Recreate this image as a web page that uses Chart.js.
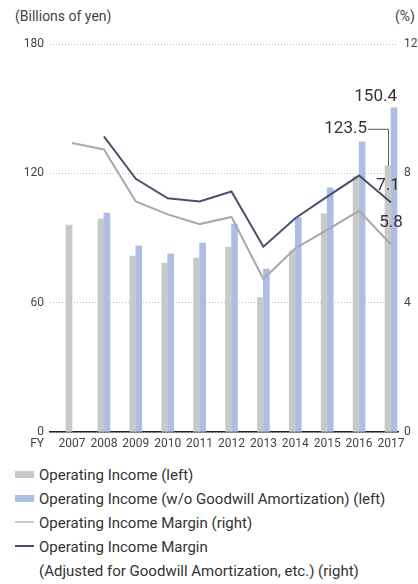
<!DOCTYPE html>
<html>
<head>
<meta charset="utf-8">
<script src="https://cdn.jsdelivr.net/npm/chart.js@4/dist/chart.umd.min.js"></script>
<style>
  body { margin: 0; background: #fff; font-family: Roboto, "Noto Sans", sans-serif; color: #333; }
  #wrap { position: relative; width: 418px; height: 584px; }
  #box { position: absolute; left: 0; top: 0; width: 418px; height: 460px; }
  .unit { position: absolute; top: 6px; font-size: 14px; color: #444; line-height: 20px; }
  #legend { position: absolute; left: 15px; top: 463px; font-size: 15px; line-height: 24px; color: #333; }
  #legend div { white-space: nowrap; }
  .sw { display: inline-block; width: 19px; vertical-align: middle; margin-right: 5px; position: relative; top: -2px; }
  .bar { height: 7px; }
  .ln { height: 2px; }
</style>
</head>
<body>
<div id="wrap">
  <div class="unit" style="left:15px">(Billions of yen)</div>
  <div class="unit" style="right:3px">(%)</div>
  <div id="box"><canvas id="myChart"></canvas></div>
  <div id="legend">
    <div><span class="sw bar" style="background:#c9c9c9"></span>Operating Income (left)</div>
    <div><span class="sw bar" style="background:#aebde2"></span>Operating Income (w/o Goodwill Amortization) (left)</div>
    <div><span class="sw ln" style="background:#cccccc"></span>Operating Income Margin (right)</div>
    <div><span class="sw ln" style="background:#4b4f6e"></span>Operating Income Margin</div>
    <div style="padding-left:24px">(Adjusted for Goodwill Amortization, etc.) (right)</div>
  </div>
</div>
<script>
const years = [2007, 2008, 2009, 2010, 2011, 2012, 2013, 2014, 2015, 2016, 2017];
const opIncome = [96.0, 98.8, 81.6, 78.4, 80.7, 85.8, 62.4, 84.0, 101.2, 118.5, 123.5];
const opIncomeExGoodwill = [null, 101.6, 86.4, 82.7, 87.7, 96.5, 75.6, 99.5, 113.3, 134.6, 150.4];
const margin = [8.94, 8.74, 7.13, 6.73, 6.43, 6.65, 4.73, 5.68, 6.25, 6.84, 5.8];
const marginAdjusted = [null, 9.14, 7.83, 7.23, 7.13, 7.44, 5.73, 6.61, 7.28, 7.93, 7.1];
const leftTicks = [0, 60, 120, 180];
const rightTicks = [0, 4, 8, 12];

const tickFont = { family: "Roboto", size: 12 };
const tickColor = "#444";

function points(values) {
  return years.map((y, i) => ({ x: y, y: values[i] }));
}

// value labels for the last year plus the leader line to the grey bar
const lastLabels = {
  id: "lastLabels",
  afterDatasetsDraw(chart) {
    const ctx = chart.ctx;
    const last = years.length - 1;
    const grey = chart.getDatasetMeta(0).data[last];
    const blue = chart.getDatasetMeta(1).data[last];
    const light = chart.getDatasetMeta(2).data[last];
    const dark = chart.getDatasetMeta(3).data[last];

    ctx.save();
    ctx.fillStyle = "#333";
    ctx.font = "17px Roboto";
    ctx.textBaseline = "middle";

    ctx.textAlign = "right";
    ctx.fillText(opIncomeExGoodwill[last].toFixed(1), blue.x + 3, blue.y - 11);

    const ly = grey.y - 37;
    ctx.fillText(opIncome[last].toFixed(1), grey.x - 21, ly);
    ctx.strokeStyle = "#555";
    ctx.lineWidth = 1;
    ctx.beginPath();
    ctx.moveTo(grey.x - 20, ly + 0.5);
    ctx.lineTo(grey.x + 0.5, ly + 0.5);
    ctx.lineTo(grey.x + 0.5, grey.y);
    ctx.stroke();

    ctx.textAlign = "center";
    ctx.fillText(marginAdjusted[last].toFixed(1), dark.x - 3, dark.y - 17);
    ctx.fillText(margin[last].toFixed(1), light.x, light.y - 22);

    // "FY" in front of the year labels
    ctx.font = "12px Roboto";
    ctx.fillStyle = tickColor;
    ctx.textAlign = "right";
    ctx.fillText("FY", 44, chart.chartArea.bottom + 12);
    ctx.restore();
  },
};

function makeChart() {
  const ctx = document.getElementById("myChart").getContext("2d");
  return new Chart(ctx, {
    type: "bar",
    data: {
      datasets: [
        {
          label: "Operating Income (left)",
          data: points(opIncome),
          backgroundColor: "#c9c9c9",
          barThickness: 6,
          yAxisID: "y",
          order: 3,
        },
        {
          label: "Operating Income (w/o Goodwill Amortization) (left)",
          data: points(opIncomeExGoodwill),
          backgroundColor: "#aebde2",
          barThickness: 6,
          yAxisID: "y",
          order: 3,
        },
        {
          type: "line",
          label: "Operating Income Margin (right)",
          data: points(margin),
          borderColor: "#a9a9a9",
          borderWidth: 2,
          pointRadius: 0,
          tension: 0,
          yAxisID: "y1",
          order: 2,
        },
        {
          type: "line",
          label: "Operating Income Margin (Adjusted for Goodwill Amortization, etc.) (right)",
          data: points(marginAdjusted),
          borderColor: "#4b4f6e",
          borderWidth: 2,
          pointRadius: 0,
          tension: 0,
          yAxisID: "y1",
          order: 1,
        },
      ],
    },
    options: {
      responsive: true,
      maintainAspectRatio: false,
      animation: false,
      layout: { padding: { top: 44, left: 0, right: 0, bottom: 0 } },
      plugins: {
        legend: { display: false },
        tooltip: { enabled: false },
      },
      scales: {
        x: {
          type: "linear",
          offset: false,
          min: 2006.31,
          max: 2017.22,
          grid: { display: false, drawTicks: false },
          border: { display: true, color: "#222", width: 1.5 },
          afterBuildTicks: (scale) => {
            scale.ticks = years.map((v) => ({ value: v }));
          },
          afterFit: (scale) => {
            scale.height = 28;
          },
          ticks: {
            font: tickFont,
            color: tickColor,
            padding: 5,
            maxRotation: 0,
            autoSkip: false,
            callback: (v) => String(v),
          },
        },
        y: {
          position: "left",
          min: 0,
          max: 180,
          afterBuildTicks: (scale) => {
            scale.ticks = leftTicks.map((v) => ({ value: v }));
          },
          afterFit: (scale) => {
            scale.width = 50;
          },
          grid: { color: "#bdbdbd", lineWidth: 1, drawTicks: false },
          border: { display: false, dash: [1, 2] },
          ticks: { font: tickFont, color: tickColor, padding: 6 },
        },
        y1: {
          position: "right",
          min: 0,
          max: 12,
          afterBuildTicks: (scale) => {
            scale.ticks = rightTicks.map((v) => ({ value: v }));
          },
          afterFit: (scale) => {
            scale.width = 20;
          },
          grid: { display: false, drawTicks: false },
          border: { display: false },
          ticks: { font: tickFont, color: tickColor, padding: 6 },
        },
      },
    },
    plugins: [lastLabels],
  });
}

let myChart = makeChart();
</script>
</body>
</html>
